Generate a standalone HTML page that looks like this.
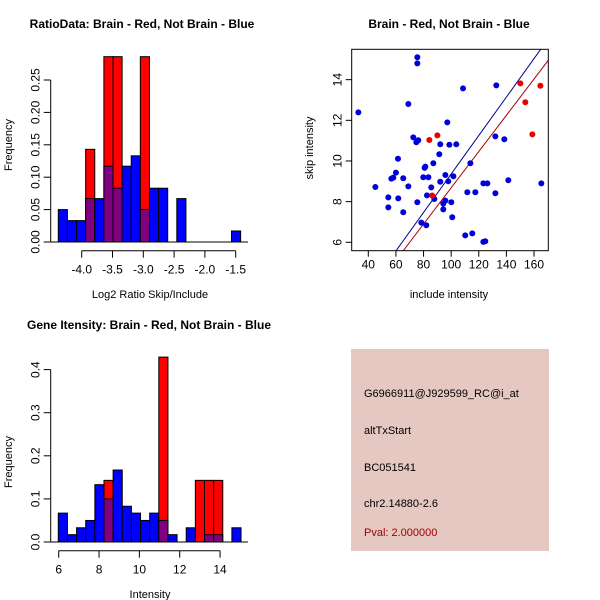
<!DOCTYPE html>
<html><head><meta charset="utf-8"><style>
body{margin:0;background:#fff}
svg{display:block;font-family:"Liberation Sans",sans-serif}
</style></head><body>
<svg id="c" width="600" height="600" xmlns="http://www.w3.org/2000/svg">
<rect x="351" y="349" width="198" height="202" fill="#e6c8c2"/>
<g font-size="11">
<text x="364" y="397" fill="#000">G6966911@J929599_RC@i_at</text>
<text x="364" y="434" fill="#000">altTxStart</text>
<text x="364" y="471" fill="#000">BC051541</text>
<text x="364" y="507" fill="#000">chr2.14880-2.6</text>
<text x="364" y="536" fill="#a00000">Pval: 2.000000</text>
</g>
</svg>
<script>
// ratio histogram
const ratioBlue=[0.05,0.033,0.033,0.067,0.067,0.117,0.083,0.117,0.133,0.05,0.083,0.083,0,0.067,0,0,0,0,0,0.017];
const ratioRed=[0,0,0,0.143,0,0.286,0.286,0,0,0.286,0,0,0,0,0,0,0,0,0,0];
const ratioXTicks=[-4.0,-3.5,-3.0,-2.5,-2.0,-1.5];
const ratioYTicks=[0.00,0.05,0.10,0.15,0.20,0.25];
// intensity histogram
const intBlue=[0.067,0.017,0.033,0.05,0.133,0.1,0.167,0.083,0.067,0.05,0.067,0.05,0.017,0,0.033,0,0.017,0.017,0,0.033];
const intRed=[0,0,0,0,0,0.143,0,0,0,0,0,0.429,0,0,0,0.143,0.143,0.143,0,0];
const intXTicks=[6,8,10,12,14];
const intYTicks=[0.0,0.1,0.2,0.3,0.4];
// scatter
const blueX=[32.8,45.1,54.5,54.5,56.7,58.1,60.0,61.5,61.7,65.3,65.3,69.0,69.0,72.6,74.8,75.5,75.5,75.5,76.2,78.4,79.8,80.8,81.3,82.0,82.5,83.5,85.6,87.1,87.8,91.4,92.1,92.1,94.3,94.3,95.8,95.8,97.2,97.9,98.7,100.1,100.8,101.6,103.7,108.6,110.2,111.7,113.9,115.3,117.5,123.3,123.3,124.7,126.2,132.0,132.7,132.0,138.5,141.4,165.3];
const blueY=[12.39,8.72,8.21,7.72,9.13,9.18,9.43,10.11,8.16,7.48,9.15,12.80,8.75,11.16,10.92,7.97,15.10,14.80,11.02,6.97,9.20,9.66,9.72,6.84,8.31,9.20,8.70,9.89,8.13,10.33,10.82,8.98,7.90,7.62,8.05,9.31,11.90,9.00,10.80,7.97,7.23,9.25,10.82,13.57,6.34,8.46,9.89,6.44,8.46,8.90,6.02,6.05,8.90,8.41,13.72,11.21,11.07,9.05,8.90];
const redX=[84.2,90.0,86.3,150.1,153.7,158.8,164.6];
const redY=[11.03,11.26,8.30,13.82,12.89,11.31,13.70];
const fitBlue=[-0.10,0.0946];
const fitRed=[-0.24,0.0892];
const scXTicks=[40,60,80,100,120,140,160];
const scYTicks=[6,8,10,12,14];

const svg=document.getElementById('c');
const NS='http://www.w3.org/2000/svg';
function mk(tag,a,parent){const e=document.createElementNS(NS,tag);for(const k in a)e.setAttribute(k,a[k]);(parent||svg).appendChild(e);return e;}
function txt(x,y,s,a,parent){const e=mk('text',Object.assign({x:x,y:y,'text-anchor':'middle','font-size':12},a||{}),parent);e.textContent=s;return e;}

function hist(opt){
  const g=mk('g',{});
  
  
  const xs=v=>opt.x0+(v-opt.xv0)*opt.xk, ys=v=>opt.y0-v*opt.yk;
  const n=opt.blue.length;
  for(let i=0;i<n;i++){
    const a=opt.start+i*opt.step,b=a+opt.step;
    if(opt.red[i]>0){
      const r=mk('rect',{x:xs(a),y:ys(opt.red[i]),width:xs(b)-xs(a),height:ys(0)-ys(opt.red[i]),fill:'#ff0000',stroke:'#000','stroke-width':1},g);
      
      
    }
    if(opt.blue[i]>0){
      const r=mk('rect',{x:xs(a),y:ys(opt.blue[i]),width:xs(b)-xs(a),height:ys(0)-ys(opt.blue[i]),fill:opt.red[i]>0?'#800080':'#0000ff',stroke:'#000','stroke-width':1},g);
      
      
    }
  }
  const ax=opt.axisX;
  const yt=opt.yTicks;
  mk('line',{x1:ax,x2:ax,y1:ys(yt[0]),y2:ys(yt[yt.length-1]),stroke:'#000'},g);
  yt.forEach(v=>{mk('line',{x1:ax-7,x2:ax,y1:ys(v),y2:ys(v),stroke:'#000'},g);
    const t=txt(ax-11,ys(v),v.toFixed(opt.yDec),{transform:'rotate(-90 '+(ax-11)+' '+ys(v)+')'},g);
    });
  const xt=opt.xTicks, ay=opt.axisY;
  mk('line',{x1:xs(xt[0]),x2:xs(xt[xt.length-1]),y1:ay,y2:ay,stroke:'#000'},g);
  xt.forEach(v=>{mk('line',{x1:xs(v),x2:xs(v),y1:ay,y2:ay+7,stroke:'#000'},g);
    const t=txt(xs(v),ay+23,v.toFixed(opt.xDec),{},g);
    });
  mk('line',{x1:opt.baseA,x2:opt.baseB,y1:ys(0),y2:ys(0),stroke:'#000'},g);
}
hist({name:'ratio-histogram',blue:ratioBlue,red:ratioRed,start:-4.38,step:0.148,x0:81.7,xv0:-4,xk:61.6,y0:242,yk:648,axisX:50.7,axisY:250.7,yTicks:ratioYTicks,xTicks:ratioXTicks,yDec:2,xDec:1,baseA:50.7,baseB:248});
hist({name:'intensity-histogram',blue:intBlue,red:intRed,start:5.98,step:0.453,x0:58.7,xv0:6,xk:20.17,y0:542,yk:431,axisX:50.7,axisY:550.7,yTicks:intYTicks,xTicks:intXTicks,yDec:1,xDec:0,baseA:50.7,baseB:248});

// scatter
const sg=mk('g',{});


const L=351.7,R=548.3,T=49.3,B=250.7;
const sx=v=>368.3+(v-40)*1.381, sy=v=>242.3-(v-6)*20.33;
const cp=mk('clipPath',{id:'clip'},sg);mk('rect',{x:L,y:T,width:R-L,height:B-T},cp);
[[fitBlue,'#00008b','fit-line-blue'],[fitRed,'#b00000','fit-line-red']].forEach(([f,c,nm])=>{
  const l=mk('line',{x1:sx(20),y1:sy(f[0]+f[1]*20),x2:sx(200),y2:sy(f[0]+f[1]*200),stroke:c,'clip-path':'url(#clip)'},sg);
  
  
});
blueX.forEach((v,i)=>{const c=mk('circle',{cx:sx(v),cy:sy(blueY[i]),r:3,fill:'#0000dd'},sg);
  
  });
redX.forEach((v,i)=>{const c=mk('circle',{cx:sx(v),cy:sy(redY[i]),r:3,fill:'#ee0000'},sg);
  
  });
mk('rect',{x:L,y:T,width:R-L,height:B-T,fill:'none',stroke:'#000'},sg);
scXTicks.forEach(v=>{mk('line',{x1:sx(v),x2:sx(v),y1:B,y2:B+6,stroke:'#000'},sg);
  const t=txt(sx(v),B+18,String(v),{},sg);
  
  });
scYTicks.forEach(v=>{mk('line',{x1:L-6,x2:L,y1:sy(v),y2:sy(v),stroke:'#000'},sg);
  const t=txt(L-10,sy(v),String(v),{transform:'rotate(-90 '+(L-10)+' '+sy(v)+')'},sg);
  
  });

// titles & axis labels
const labels=[
 [142,28,'RatioData: Brain - Red, Not Brain - Blue',{'font-weight':'bold'},'ratio-title'],
 [449,28,'Brain - Red, Not Brain - Blue',{'font-weight':'bold'},'scatter-title'],
 [149,329,'Gene Itensity: Brain - Red, Not Brain - Blue',{'font-weight':'bold'},'intensity-title'],
 [150,298,'Log2 Ratio Skip/Include',{'font-size':11},'ratio-x-title'],
 [449,298,'include intensity',{'font-size':11},'scatter-x-title'],
 [150,598,'Intensity',{'font-size':11},'intensity-x-title'],
 [12,145,'Frequency',{'font-size':11,transform:'rotate(-90 12 145)'},'ratio-y-title'],
 [313,148,'skip intensity',{'font-size':11,transform:'rotate(-90 313 148)'},'scatter-y-title'],
 [12,462,'Frequency',{'font-size':11,transform:'rotate(-90 12 462)'},'intensity-y-title']
];
labels.forEach(([x,y,s,a,nm])=>{const t=txt(x,y,s,a);
  
  });
</script>
</body></html>
